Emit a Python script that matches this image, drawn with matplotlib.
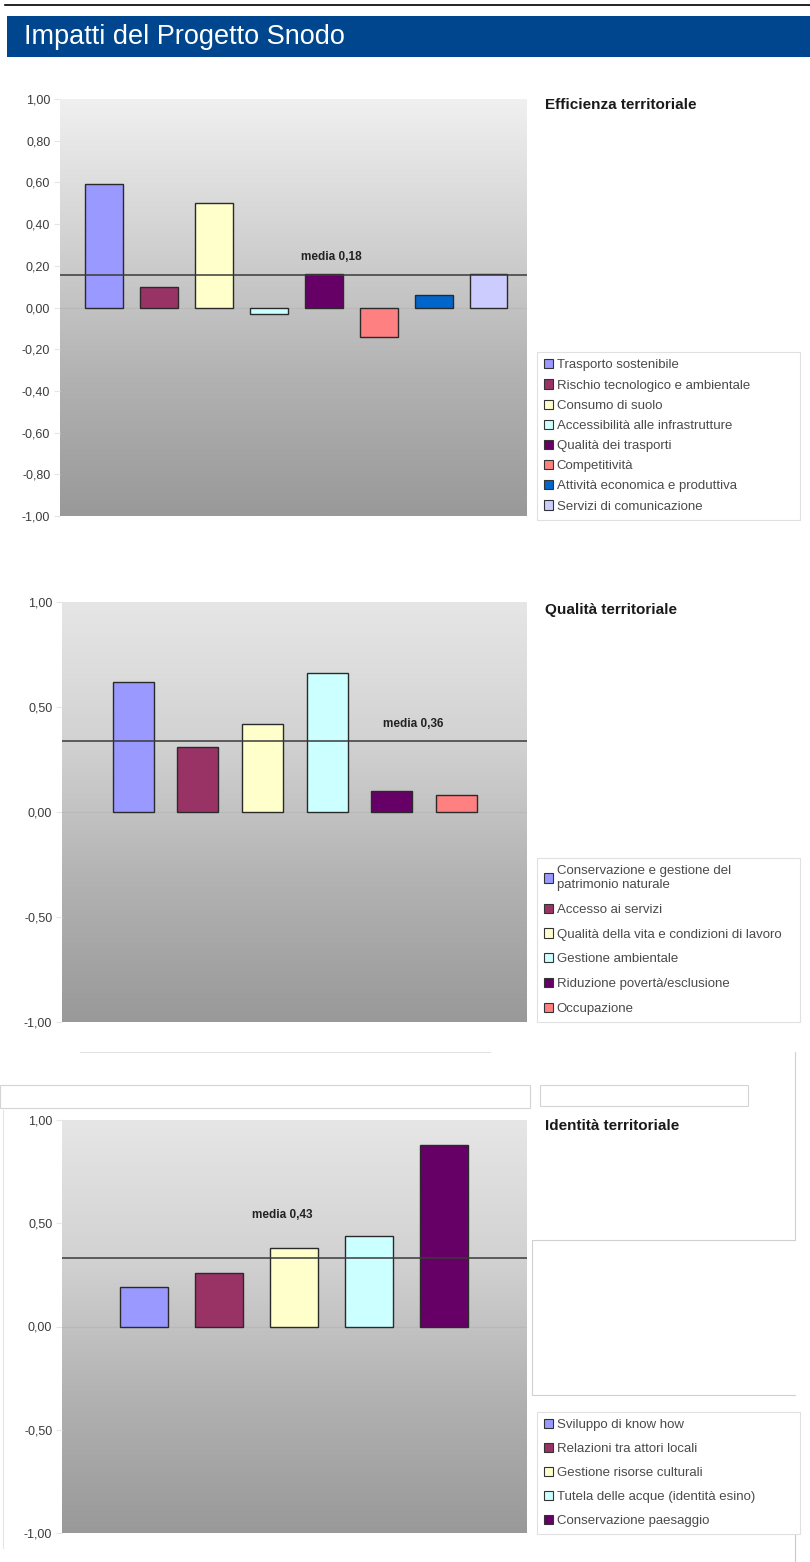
import matplotlib
matplotlib.use('Agg')
import matplotlib.pyplot as plt
from matplotlib.patches import Rectangle, Patch
from matplotlib.lines import Line2D
from matplotlib.colors import LinearSegmentedColormap
import numpy as np

plt.rcParams['font.family'] = ['Liberation Sans', 'DejaVu Sans']

W, H = 810, 1562

# ---- data ----
eff_labels = ['Trasporto sostenibile', 'Rischio tecnologico e ambientale', 'Consumo di suolo',
              'Accessibilità alle infrastrutture', 'Qualità dei trasporti', 'Competitività',
              'Attività economica e produttiva', 'Servizi di comunicazione']
eff_values = [0.59, 0.10, 0.50, -0.03, 0.16, -0.14, 0.06, 0.16]
eff_colors = ['#9999ff', '#993366', '#ffffcc', '#ccffff', '#660066', '#ff8080', '#0066cc', '#ccccff']
eff_mean_line = 0.155
eff_mean_text = 'media 0,18'
eff_ticks = [1.0, 0.8, 0.6, 0.4, 0.2, 0.0, -0.2, -0.4, -0.6, -0.8, -1.0]

qual_labels = ['Conservazione e gestione del\npatrimonio naturale', 'Accesso ai servizi',
               'Qualità della vita e condizioni di lavoro', 'Gestione ambientale',
               'Riduzione povertà/esclusione', 'Occupazione']
qual_values = [0.62, 0.31, 0.42, 0.66, 0.10, 0.08]
qual_colors = ['#9999ff', '#993366', '#ffffcc', '#ccffff', '#660066', '#ff8080']
qual_mean_line = 0.34
qual_mean_text = 'media 0,36'
qual_ticks = [1.0, 0.5, 0.0, -0.5, -1.0]

id_labels = ['Sviluppo di know how', 'Relazioni tra attori locali', 'Gestione risorse culturali',
             'Tutela delle acque (identità esino)', 'Conservazione paesaggio']
id_values = [0.19, 0.26, 0.38, 0.44, 0.88]
id_colors = ['#9999ff', '#993366', '#ffffcc', '#ccffff', '#660066']
id_mean_line = 0.33
id_mean_text = 'media 0,43'
id_ticks = [1.0, 0.5, 0.0, -0.5, -1.0]

fig = plt.figure(figsize=(W / 100, H / 100), dpi=100)


def fx(x):
    return x / W


def fy(y):
    return 1 - y / H


def px_axes(x0, y0, x1, y1):
    return fig.add_axes([fx(x0), fy(y1), (x1 - x0) / W, (y1 - y0) / H])


def fig_line(xs, ys, color='#d4d4d4', lw=0.8):
    fig.add_artist(Line2D([fx(x) for x in xs], [fy(y) for y in ys],
                          transform=fig.transFigure, color=color, lw=lw))


def fig_rect(x0, y0, x1, y1, edge='#d4d4d4', face='none', lw=0.8):
    fig.add_artist(Rectangle((fx(x0), fy(y1)), (x1 - x0) / W, (y1 - y0) / H,
                             transform=fig.transFigure, edgecolor=edge, facecolor=face, lw=lw))


def draw_chart(box, values, colors, labels, xlim, width, ticks, mean_line, mean_text, mean_xy,
               title, title_y, leg_box, leg_spacing, top_col='#f0f0f0'):
    ax = px_axes(*box)
    cm = LinearSegmentedColormap.from_list('g', [top_col, '#d2d2d2', '#b2b2b2', '#999999'])
    ax.imshow(np.linspace(0, 1, 256).reshape(-1, 1), cmap=cm, aspect='auto',
              extent=[xlim[0], xlim[1], -1, 1], origin='upper', zorder=0)
    x = np.arange(len(values))
    ax.bar(x, values, width, color=colors, edgecolor='#2a2a2a', linewidth=1.0, zorder=3)
    ax.axhline(0, color='#b8b8b8', lw=0.8, zorder=2)
    ax.axhline(mean_line, color='#3a3a3a', lw=1.1, zorder=4)
    ax.set_xlim(*xlim)
    ax.set_ylim(-1, 1)
    ax.set_xticks([])
    ax.set_yticks(ticks)
    ax.set_yticklabels([f'{t:.2f}'.replace('.', ',') for t in ticks], fontsize=9, color='#3c3c3c')
    ax.tick_params(axis='y', length=4, color='#e6e6e6', pad=3)
    for s in ax.spines.values():
        s.set_visible(False)
    fig.text(fx(mean_xy[0]), fy(mean_xy[1]), mean_text, fontsize=8.5, fontweight='bold',
             ha='center', va='center', color='#222222')
    fig.text(fx(545), fy(title_y), title, fontsize=11, fontweight='bold', ha='left',
             va='center', color='#1a1a1a')
    handles = [Patch(facecolor=c, edgecolor='#333333', lw=0.8) for c in colors]
    x0, y0, x1, y1 = leg_box
    leg = fig.legend(handles, labels, loc='upper left',
                     bbox_to_anchor=(fx(x0), fy(y1), (x1 - x0) / W, (y1 - y0) / H),
                     bbox_transform=fig.transFigure, mode='expand', fontsize=9.5,
                     frameon=True, fancybox=False, edgecolor='#e0e0e0', facecolor='white',
                     framealpha=1, handlelength=0.7, handleheight=0.7, handletextpad=0.25,
                     labelspacing=leg_spacing, borderpad=0.55, borderaxespad=0)
    for t in leg.get_texts():
        t.set_color('#4a4a4a')
    leg.get_frame().set_linewidth(0.8)
    return ax


# ---- header ----
fig_line([5, 810], [5, 5], color='black', lw=1.2)
fig_rect(7, 16, 810, 57, edge='none', face='#00468f')
fig.text(fx(24), fy(37), 'Impatti del Progetto Snodo', fontsize=19.5, color='white',
         ha='left', va='center')

# ---- chart 1 ----
draw_chart((60, 99, 527, 516), eff_values, eff_colors, eff_labels, (-0.8, 7.7), 0.69,
           eff_ticks, eff_mean_line, eff_mean_text, (331, 257),
           'Efficienza territoriale', 105, (537, 352, 800, 517), 0.6)

# ---- chart 2 ----
draw_chart((62, 602, 527, 1022), qual_values, qual_colors, qual_labels, (-1.1, 6.09), 0.635,
           qual_ticks, qual_mean_line, qual_mean_text, (413, 724),
           'Qualità territoriale', 610, (537, 858, 800, 1024), 0.95, top_col='#e6e6e6')

# ---- chart 3 ----
draw_chart((62, 1120, 527, 1533), id_values, id_colors, id_labels, (-1.09, 5.11), 0.64,
           id_ticks, id_mean_line, id_mean_text, (282, 1215),
           'Identità territoriale', 1126, (537, 1412, 800, 1537), 0.88, top_col='#e6e6e6')

# ---- faint leftover frame lines ----
fig_line([80, 490], [1052, 1052], color='#e2e2e2')
fig_rect(0, 1085, 530, 1108)
fig_rect(540, 1085, 748, 1106)
fig_line([795, 795, 532, 532, 795], [1052, 1240, 1240, 1395, 1395], color='#d0d0d0')
fig_line([3, 3], [1110, 1548], color='#e4e4e4')
fig_line([795, 795], [1520, 1562], color='#c8c8c8')

fig.savefig('out.png', dpi=100)
